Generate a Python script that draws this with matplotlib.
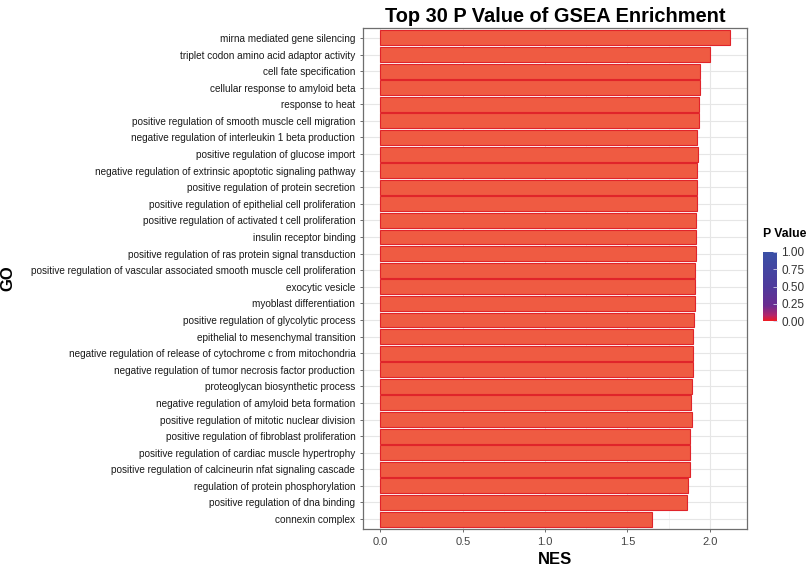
#!/usr/bin/env python3

import matplotlib
matplotlib.use("Agg")
import matplotlib.pyplot as plt
from matplotlib.colors import LinearSegmentedColormap, Normalize
from matplotlib.cm import ScalarMappable

plt.rcParams["font.family"] = ["Liberation Sans", "DejaVu Sans"]

# GO terms, top to bottom as shown
terms = [
    "mirna mediated gene silencing",
    "triplet codon amino acid adaptor activity",
    "cell fate specification",
    "cellular response to amyloid beta",
    "response to heat",
    "positive regulation of smooth muscle cell migration",
    "negative regulation of interleukin 1 beta production",
    "positive regulation of glucose import",
    "negative regulation of extrinsic apoptotic signaling pathway",
    "positive regulation of protein secretion",
    "positive regulation of epithelial cell proliferation",
    "positive regulation of activated t cell proliferation",
    "insulin receptor binding",
    "positive regulation of ras protein signal transduction",
    "positive regulation of vascular associated smooth muscle cell proliferation",
    "exocytic vesicle",
    "myoblast differentiation",
    "positive regulation of glycolytic process",
    "epithelial to mesenchymal transition",
    "negative regulation of release of cytochrome c from mitochondria",
    "negative regulation of tumor necrosis factor production",
    "proteoglycan biosynthetic process",
    "negative regulation of amyloid beta formation",
    "positive regulation of mitotic nuclear division",
    "positive regulation of fibroblast proliferation",
    "positive regulation of cardiac muscle hypertrophy",
    "positive regulation of calcineurin nfat signaling cascade",
    "regulation of protein phosphorylation",
    "positive regulation of dna binding",
    "connexin complex",
]

nes = [
    2.12, 2.00, 1.94, 1.94, 1.935, 1.935, 1.925, 1.926, 1.922, 1.922,
    1.920, 1.916, 1.914, 1.916, 1.908, 1.908, 1.908, 1.902, 1.900, 1.896,
    1.896, 1.890, 1.888, 1.890, 1.880, 1.878, 1.878, 1.866, 1.862, 1.650,
]

pvals = [
    0.0, 0.0, 0.0, 0.0, 0.0, 0.0, 0.0, 0.0, 0.0, 0.0,
    0.0, 0.0, 0.0, 0.0, 0.0, 0.0, 0.0, 0.0, 0.0, 0.0,
    0.0, 0.0, 0.0, 0.0, 0.0, 0.0, 0.0, 0.0, 0.0, 0.0,
]

cbar_ticks = [0.00, 0.25, 0.50, 0.75, 1.00]
x_ticks = [0.0, 0.5, 1.0, 1.5, 2.0]

# red (low p) -> purple -> blue (high p)
cmap = LinearSegmentedColormap.from_list(
    "pval",
    [(0.0, "#EE1C24"), (0.08, "#B4266A"), (0.22, "#6A2C90"),
     (0.5, "#4E3A9C"), (1.0, "#3A50A6")],
)
norm = Normalize(0, 1)

fig = plt.figure(figsize=(8.07, 5.68), dpi=100)
ax = fig.add_axes([363 / 807, 1 - 529 / 568, 384 / 807, 501 / 568])

ypos = list(range(len(terms)))[::-1]
bar_colors = ["#EF5B42" if p <= 0.02 else cmap(norm(p)) for p in pvals]
ax.barh(ypos, nes, height=0.9, color=bar_colors, edgecolor="#E0242A",
        linewidth=0.8, zorder=3)

xmax = max(nes)
ax.set_xlim(-0.05 * xmax, 1.05 * xmax)
ax.set_ylim(-0.6, len(terms) - 0.4)
ax.set_yticks(ypos)
ax.set_yticklabels(terms, fontsize=7.2, color="#1A1A1A")
ax.set_xticks(x_ticks)
ax.set_xticklabels([f"{t:.1f}" for t in x_ticks], fontsize=8, color="#444444")
ax.set_xticks([0.25, 0.75, 1.25, 1.75], minor=True)
ax.tick_params(axis="both", which="major", length=2.5, width=0.6, color="#555555", pad=3)
ax.tick_params(axis="x", which="minor", length=0)

ax.grid(True, which="major", color="#E6E6E6", linewidth=0.8, zorder=0)
ax.grid(True, which="minor", axis="x", color="#F0F0F0", linewidth=0.5, zorder=0)
ax.set_axisbelow(True)
for s in ax.spines.values():
    s.set_color("#6E6E6E")
    s.set_linewidth(0.9)

ax.set_title("Top 30 P Value of GSEA Enrichment", fontsize=14.4, fontweight="bold", pad=4)
# axis titles placed in figure pixels
fig.text(555 / 807, 1 - 560 / 568, "NES", fontsize=12, fontweight="bold",
         ha="center", va="center")
fig.text(8 / 807, 1 - 278 / 568, "GO", fontsize=12, fontweight="bold",
         ha="center", va="center", rotation=90)

# colour bar legend
cax = fig.add_axes([763 / 807, 1 - 321 / 568, 14 / 807, 69 / 568])
cb = fig.colorbar(ScalarMappable(norm=norm, cmap=cmap), cax=cax, ticks=cbar_ticks)
cb.outline.set_visible(False)
cb.ax.set_yticklabels([f"{t:.2f}" for t in cbar_ticks], fontsize=8.5, color="#333333")
cb.ax.tick_params(length=3, width=0.6, color="#CFCFEA", direction="in", pad=3)
fig.text(763 / 807, 1 - 234 / 568, "P Value", fontsize=8.8, fontweight="bold",
         va="center", ha="left")

fig.savefig("out.png", dpi=100)
